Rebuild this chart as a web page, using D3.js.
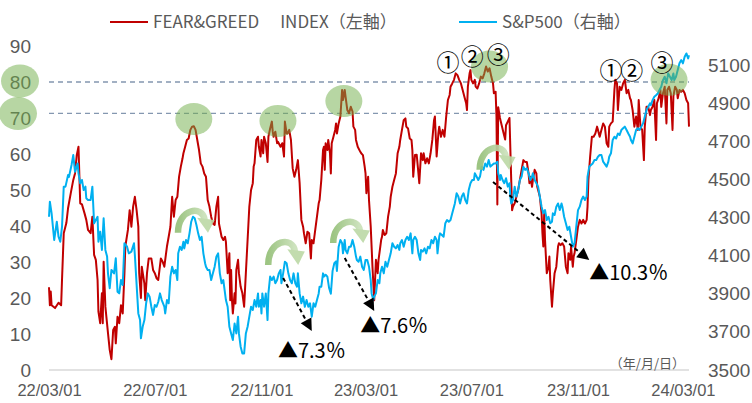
<!DOCTYPE html>
<html>
<head>
<meta charset="utf-8">
<script src="https://cdn.jsdelivr.net/npm/d3@7"></script>
<style>
  body { margin: 0; background: #fff; }
  svg { display: block; font-family: "Noto Sans CJK JP", "Noto Sans", sans-serif; }
</style>
</head>
<body>
<svg id="chart" width="752" height="403"></svg>
<script>
// day 0 = 2022/03/01, readings
var START = new Date(2022, 2, 1);

// [day, Fear & Greed index]
var fearGreed = [
  [0,23],[1,18],[2,21.8],[3,18],[7,17.2],[11,18.7],[14,18],[15,25],[17,38],[20,40.8],
  [22,45],[25,49],[28,52.8],[30,54.6],[32,59.7],[34,62],[36,46.3],[38,46],[41,43.5],[43,41.7],
  [45,38.9],[48,38],[50,42.6],[52,32],[54,30.6],[56,25],[57,16.2],[59,13],[61,21.3],[62,13],
  [63,30.1],[65,17.6],[68,10.3],[70,5.6],[72,3],[74,11.1],[76,12],[77,7.4],[79,14.8],[81,13],
  [83,18],[85,15.7],[87,26.9],[88,34.3],[91,38.9],[93,44.4],[95,39.8],[97,45.4],[99,48.1],[101,44.4],
  [103,39.8],[104,26.9],[106,20],[107,28.7],[110,24],[111,19.4],[113,26.9],[115,31],[118,31],[120,27.8],
  [122,26.9],[124,25.5],[126,25],[129,31],[131,30.1],[133,28.7],[136,34.3],[138,37],[140,39.8],[142,48.1],
  [144,42.6],[146,47.2],[148,48.1],[150,53.7],[152,56.5],[154,58.8],[155,60.2],[157,62],[159,63.9],[161,64.3],
  [163,66.7],[165,67.6],[167,67.7],[169,66.7],[171,63.9],[173,61.1],[175,57.4],[177,56.5],[179,54.6],[181,53.7],
  [183,47.2],[185,45.4],[187,42.6],[189,40.7],[191,40.3],[193,45.4],[195,48.1],[196,40.7],[199,37],[201,36.1],
  [203,37],[204,35.6],[206,26.9],[208,32.4],[209,19.4],[210,27.8],[211,19.4],[212,15.7],[214,21.3],[215,18.5],
  [216,27.8],[218,30.6],[219,26.9],[221,23.1],[223,21.3],[225,17.6],[227,26.9],[229,36.1],[231,45.4],[233,50],
  [235,51.9],[236,56.5],[237,57.4],[239,63.9],[241,64.8],[242,62],[244,59.3],[245,63.9],[247,60.2],[248,64.8],
  [250,63],[252,57.8],[253,64.8],[255,67.1],[257,69],[258,66.2],[259,64.8],[261,66.2],[263,63],[264,63.4],
  [267,62],[269,63],[271,59.3],[272,69],[274,65.7],[275,65.7],[277,66.7],[279,63.9],[281,56],[283,53.7],
  [285,55.6],[287,58.3],[289,51.9],[291,41.7],[293,39.8],[294,38],[296,35.2],[298,38.4],[300,38],[302,31],
  [303,36.1],[305,35.2],[307,38.9],[309,42.6],[311,46.3],[312,47.2],[314,52.8],[316,61.1],[317,62],[318,55.6],
  [319,63],[321,61.1],[322,63.9],[324,60.2],[325,54.6],[326,63],[328,64.8],[330,66.7],[331,68.5],[332,65.7],
  [334,68.5],[336,70.4],[338,77.8],[339,75],[341,77.8],[342,75.9],[344,72.2],[346,71.3],[348,73.1],[350,71.8],
  [351,67.6],[353,66.7],[354,63.9],[356,62],[359,60.6],[360,60.2],[362,59.7],[364,56.5],[365,54.6],[366,49.1],
  [368,53.7],[369,47.2],[371,39.8],[373,28.7],[375,19.4],[376,25],[377,30.6],[379,26.9],[380,30.6],[381,32.4],
  [383,36.1],[384,37],[385,38.9],[387,37.5],[389,38],[391,42.6],[393,45.4],[394,48.1],[396,50.9],[398,52.8],
  [400,54.6],[401,57.4],[402,60.2],[404,62],[405,63.9],[407,66.7],[409,69.4],[411,69.9],[412,67.6],[414,67.1],
  [416,64.3],[418,63.9],[419,61.1],[420,53.7],[422,59.7],[424,59.8],[426,54.6],[427,51.9],[429,60.2],[431,58.3],
  [432,60.2],[434,57.4],[436,58.8],[438,57.4],[440,60.2],[442,63.9],[444,69.4],[445,70.4],[447,59.3],[449,65.7],
  [450,67.6],[452,64.8],[454,66.7],[456,64.8],[458,70.4],[460,75],[462,76.4],[463,78.7],[465,79.6],[467,80.6],
  [469,82.4],[471,81.9],[473,80.6],[475,79.6],[477,77.8],[479,75.9],[481,74.1],[482,72.2],[483,78.7],[485,82.4],
  [486,83.3],[487,80.6],[489,79.6],[491,80.6],[492,78.7],[494,78.2],[496,79.6],[498,81.5],[500,81],[502,82.4],
  [504,84.3],[506,82.9],[508,83.8],[510,81.5],[512,79.6],[513,76.9],[515,77.3],[516,70.4],[517,46],[518,73],
  [520,70],[522,68],[524,66],[526,64],[527,68],[529,69],[531,70],[533,52.8],[534,44.4],[535,45.4],
  [537,46.3],[539,48.1],[541,50],[543,52.8],[545,55.6],[547,58.3],[549,57.8],[551,57.8],[553,54.6],[554,51.9],
  [555,53.7],[557,50.9],[558,52.8],[560,55.6],[562,54.6],[563,50.9],[565,49.1],[566,48.1],[568,43.5],[569,38],
  [570,34.3],[571,43.5],[572,36.1],[574,26.9],[576,28.7],[577,31.5],[578,25],[580,17.6],[581,21.3],[583,26.9],
  [585,28.7],[587,34.3],[588,35.2],[590,34.7],[592,35.2],[594,34.3],[596,28.7],[598,26.9],[599,32.4],[601,30.6],
  [602,34.3],[604,28.7],[605,31.5],[606,32.4],[608,36.1],[610,39.8],[612,41.7],[614,40.7],[616,41.7],[618,40.7],
  [620,41.7],[621,45.4],[622,52.8],[624,59.3],[626,64.8],[628,64.8],[630,65.7],[632,67.6],[633,66.7],[635,64.8],
  [637,66.7],[639,68.5],[641,67.6],[643,63],[645,62],[646,67.6],[648,68.5],[650,69],[652,77.8],[653,80.6],
  [655,79.6],[656,72.2],[658,78.7],[660,77.8],[662,79.6],[664,80.6],[666,76.9],[668,77.8],[670,75.5],[671,75],
  [673,72.2],[675,67.6],[677,70.4],[679,66.7],[680,75],[682,67.6],[684,66.7],[686,58.3],[687,67.6],[689,73.1],
  [691,73.1],[693,70.8],[694,72.2],[696,73.1],[698,75],[700,63.9],[701,74.1],[703,75.5],[705,77.8],[706,73.1],
  [708,76.9],[710,78.7],[712,68.5],[713,77.8],[715,78.7],[717,76.9],[719,66.7],[720,76],[722,78.7],[724,77.8],
  [725,75.5],[727,77.8],[729,77.3],[731,77.8],[733,76.9],[735,75],[737,74.1],[738,67.6]
];

// [day, S&P500 close]
var sp500 = [
  [0,4304],[1,4383],[3,4322],[6,4182],[9,4278],[11,4199],[13,4173],[15,4251],[17,4462],[19,4462],
  [22,4523],[23,4513],[26,4576],[28,4628],[30,4540],[33,4584],[34,4532],[36,4480],[38,4497],[40,4444],
  [42,4462],[43,4401],[45,4392],[48,4392],[50,4462],[52,4270],[54,4287],[56,4304],[57,4173],[59,4226],
  [61,4130],[63,4296],[65,4130],[67,4095],[68,4007],[70,3929],[72,4025],[75,4007],[77,4086],[79,3911],
  [81,3902],[83,3972],[85,3946],[87,4165],[90,4147],[92,4112],[95,4121],[98,4165],[99,4104],[103,3797],
  [105,3762],[106,3666],[108,3727],[110,3762],[112,3850],[114,3902],[116,3885],[118,3832],[120,3789],[122,3841],
  [124,3832],[126,3858],[128,3902],[130,3867],[133,3832],[134,3797],[136,3867],[138,3850],[140,3990],[142,4042],
  [144,4007],[146,4025],[148,3972],[149,4112],[151,4147],[153,4130],[155,4173],[156,4138],[158,4182],[160,4165],
  [162,4217],[164,4278],[166,4304],[168,4296],[170,4261],[172,4217],[174,4182],[176,4199],[178,4112],[180,4060],
  [181,4042],[183,4025],[185,4025],[187,3972],[189,4007],[191,4042],[193,4095],[195,4112],[197,4007],[199,3955],
  [201,3972],[203,3902],[204,3867],[206,3832],[208,3727],[210,3692],[212,3657],[214,3744],[216,3692],[218,3780],
  [219,3692],[221,3622],[223,3587],[225,3587],[227,3692],[229,3727],[231,3780],[233,3832],[235,3815],[237,3867],
  [239,3832],[241,3902],[242,3832],[244,3867],[245,3797],[246,3902],[248,3832],[250,3902],[252,3762],[253,3902],
  [255,3990],[257,3972],[259,3990],[261,3955],[263,3972],[265,4007],[267,4025],[268,3955],[270,4007],[272,4068],
  [274,4060],[276,4007],[278,3972],[280,3955],[282,4007],[284,3955],[286,3937],[287,4007],[289,3902],[291,3850],
  [293,3885],[295,3832],[297,3867],[299,3832],[301,3850],[303,3780],[305,3850],[307,3832],[309,3867],[311,3902],
  [312,3937],[314,3937],[316,4007],[317,3990],[319,4000],[321,3990],[323,3930],[325,3900],[327,4020],[329,4060],
  [331,4070],[332,4020],[334,4147],[336,4182],[338,4165],[339,4112],[341,4182],[342,4130],[344,4112],[346,4147],
  [348,4147],[350,4182],[352,4147],[354,4095],[355,4077],[357,4068],[359,4095],[361,4042],[363,4025],[365,4077],
  [367,4077],[369,4042],[371,3972],[372,3902],[374,3867],[375,3885],[377,3902],[378,3937],[379,3972],[381,3955],
  [382,4007],[384,4042],[386,4007],[388,4068],[390,4042],[392,4077],[394,4112],[396,4165],[398,4147],[400,4138],
  [402,4156],[404,4130],[405,4165],[407,4182],[409,4147],[411,4182],[413,4199],[415,4182],[417,4217],[419,4112],
  [420,4182],[422,4199],[424,4182],[426,4112],[428,4077],[429,4130],[431,4121],[433,4138],[435,4112],[437,4147],
  [439,4138],[441,4182],[443,4165],[445,4199],[447,4182],[448,4112],[450,4199],[451,4217],[453,4208],[455,4199],
  [457,4270],[459,4287],[461,4278],[463,4287],[465,4322],[467,4357],[468,4374],[470,4427],[472,4410],[474,4374],
  [476,4410],[478,4427],[480,4392],[482,4374],[484,4444],[486,4480],[488,4497],[490,4497],[491,4532],[493,4515],
  [495,4497],[497,4515],[499,4567],[501,4550],[503,4584],[505,4567],[507,4602],[509,4567],[511,4576],[513,4584],
  [515,4584],[517,4593],[518,4532],[520,4497],[521,4523],[523,4497],[525,4480],[527,4506],[529,4462],[531,4480],
  [532,4410],[533,4374],[535,4392],[537,4462],[539,4410],[541,4444],[543,4497],[545,4515],[547,4567],[549,4550],
  [551,4558],[553,4532],[555,4497],[557,4515],[558,4532],[560,4497],[562,4480],[564,4462],[566,4410],[568,4357],
  [570,4322],[572,4339],[574,4287],[576,4304],[578,4270],[580,4278],[581,4322],[583,4313],[585,4357],[587,4374],
  [589,4339],[591,4374],[592,4357],[594,4304],[596,4270],[598,4235],[600,4252],[602,4199],[604,4147],[606,4165],
  [608,4252],[610,4339],[612,4357],[614,4392],[616,4410],[618,4392],[620,4410],[621,4515],[623,4567],[625,4576],
  [627,4584],[629,4602],[631,4602],[633,4619],[635,4628],[637,4628],[639,4593],[643,4567],[645,4593],[646,4619],
  [648,4637],[650,4707],[652,4724],[654,4715],[656,4741],[658,4733],[660,4759],[662,4768],[664,4777],[666,4759],
  [668,4741],[670,4724],[671,4707],[673,4689],[675,4724],[677,4759],[679,4768],[681,4759],[683,4777],[685,4794],
  [687,4829],[689,4864],[691,4881],[693,4899],[694,4890],[696,4916],[698,4934],[700,4942],[702,4951],[704,4969],
  [706,4986],[708,5021],[710,5039],[712,5004],[714,5056],[716,5039],[718,5021],[720,5056],[721,5021],[723,5039],
  [725,5074],[727,5109],[729,5126],[731,5109],[733,5144],[735,5161],[737,5135],[738,5152]
];

var leftTicks  = [0, 10, 20, 30, 40, 50, 60, 70, 80, 90];
var rightTicks = [3500, 3700, 3900, 4100, 4300, 4500, 4700, 4900, 5100];
var xTickDays  = [0, 122, 245, 365, 487, 610, 731];   // 22/03/01 ... 24/03/01
var guideLevels = [80, 71.3];                          // dashed lines, left scale

// annotations (day / left-scale value or S&P value)
var peakCircles = [[167, 69.7], [264, 69.2], [340, 74.7], [508, 84.3], [715, 80.6]];
var peakLabels  = [["①", 460, 85.3], ["②", 488, 86.9], ["③", 518, 87.5],
                   ["①", 648, 83.1], ["②", 672, 83.1], ["③", 707, 85.3]];
var turnArrows  = [[143, 191, 45.3, 38.1], [247, 295, 36.7, 29.2], [322, 370, 42.2, 35.3], [491, 538, 62.8, 55.6]];
var dropArrows  = [[270, 3983, 303, 3705], [341, 4088, 375, 3810], [512, 4486, 623, 4077]];
var dropLabels  = [["▲7.3％", 264, 3600], ["▲7.6％", 359, 3731], ["▲10.3％", 623, 4009]];

var svg = d3.select("#chart");
var day = function(d) { return d3.timeDay.offset(START, d); };

var x  = d3.scaleTime().domain([START, day(738)]).range([49, 689]);
var yL = d3.scaleLinear().domain([0, 90]).range([370, 46]);
var yR = d3.scaleLinear().domain([3500, 5200]).range([370, 46]);

var grey = "#595959";

// gradient for the curved arrows
var defs = svg.append("defs");
var grad = defs.append("linearGradient").attr("id", "arrowGrad")
    .attr("x1", 0).attr("x2", 1).attr("y1", 0).attr("y2", 0);
grad.append("stop").attr("offset", 0).attr("stop-color", "#93bf76");
grad.append("stop").attr("offset", 1).attr("stop-color", "#c9e0b8");

// axes
var gl = svg.append("g").attr("transform", "translate(49,0)")
    .call(d3.axisLeft(yL).tickValues(leftTicks).tickSize(0).tickPadding(18));
var gr = svg.append("g").attr("transform", "translate(689,0)")
    .call(d3.axisRight(yR).tickValues(rightTicks).tickFormat(d3.format("d")).tickSize(0).tickPadding(19));
var gb = svg.append("g").attr("transform", "translate(0,370)")
    .call(d3.axisBottom(x).tickValues(xTickDays.map(day)).tickFormat(d3.timeFormat("%y/%m/%d"))
      .tickSize(0).tickPadding(14));
[gl, gr, gb].forEach(function(g) {
  g.select(".domain").remove();
  g.selectAll("text").attr("fill", grey).attr("font-family", null);
});
gl.selectAll("text").attr("font-size", 19);
gr.selectAll("text").attr("font-size", 19);
gb.selectAll("text").attr("font-size", 16.5);

svg.append("line")
    .attr("x1", x.range()[0]).attr("x2", x.range()[1])
    .attr("y1", yL(0)).attr("y2", yL(0))
    .attr("stroke", "#d9d9d9").attr("stroke-width", 1.5);

svg.selectAll(".guide").data(guideLevels).enter().append("line")
    .attr("x1", x.range()[0]).attr("x2", x.range()[1])
    .attr("y1", function(d) { return yL(d); }).attr("y2", function(d) { return yL(d); })
    .attr("stroke", "#8497b0").attr("stroke-width", 1.3).attr("stroke-dasharray", "5,4");

// series
var fgLine = d3.line().x(function(d) { return x(day(d[0])); }).y(function(d) { return yL(d[1]); });
var spLine = d3.line().x(function(d) { return x(day(d[0])); }).y(function(d) { return yR(d[1]); });

svg.append("path").datum(fearGreed).attr("d", fgLine)
    .attr("fill", "none").attr("stroke", "#c00000").attr("stroke-width", 2).attr("stroke-linejoin", "round");
svg.append("path").datum(sp500).attr("d", spLine)
    .attr("fill", "none").attr("stroke", "#00b0f0").attr("stroke-width", 2).attr("stroke-linejoin", "round");

// green highlight ellipses
var hl = "#70ad47";
[80, 70].forEach(function(v, i) {
  svg.append("ellipse").attr("cx", i ? 18 : 20).attr("cy", yL(v) - (i ? 4.5 : 1))
      .attr("rx", 19).attr("ry", 16.5).attr("fill", hl).attr("fill-opacity", 0.5);
});
svg.selectAll(".peak").data(peakCircles).enter().append("ellipse")
    .attr("cx", function(d) { return x(day(d[0])); })
    .attr("cy", function(d) { return yL(d[1]); })
    .attr("rx", 18.5).attr("ry", 16)
    .attr("fill", hl).attr("fill-opacity", 0.5);

// curved arrows
turnArrows.forEach(function(a) {
  var L = x(day(a[0])), R = x(day(a[1])), T = yL(a[2]), B = yL(a[3]);
  var w = R - L, h = B - T;
  var g = svg.append("g").attr("transform", "translate(" + L + "," + T + ")").attr("opacity", 0.9);
  g.append("path")
      .attr("d", "M" + 0.12 * w + "," + h + " C" + 0.12 * w + "," + 0.05 * h + " " +
                 0.72 * w + "," + -0.08 * h + " " + 0.76 * w + "," + 0.5 * h)
      .attr("fill", "none").attr("stroke", "url(#arrowGrad)").attr("stroke-width", 6.5);
  g.append("path")
      .attr("d", "M" + 0.58 * w + "," + 0.42 * h + " L" + w + "," + 0.5 * h + " L" + 0.84 * w + "," + h + "Z")
      .attr("fill", "#bcd9a6");
});

// dashed drop arrows
dropArrows.forEach(function(a) {
  var x1 = x(day(a[0])), y1 = yR(a[1]), x2 = x(day(a[2])), y2 = yR(a[3]);
  var ang = Math.atan2(y2 - y1, x2 - x1), len = 12, half = 6;
  var bx = x2 - len * Math.cos(ang), by = y2 - len * Math.sin(ang);
  svg.append("line").attr("x1", x1).attr("y1", y1).attr("x2", bx).attr("y2", by)
      .attr("stroke", "#000").attr("stroke-width", 2).attr("stroke-dasharray", "4,3");
  svg.append("path")
      .attr("d", "M" + x2 + "," + y2 +
                 " L" + (bx + half * Math.sin(ang)) + "," + (by - half * Math.cos(ang)) +
                 " L" + (bx - half * Math.sin(ang)) + "," + (by + half * Math.cos(ang)) + "Z")
      .attr("fill", "#000");
});

svg.selectAll(".drop").data(dropLabels).enter().append("text")
    .attr("x", function(d) { return x(day(d[1])); })
    .attr("y", function(d) { return yR(d[2]); })
    .attr("dy", "0.35em").attr("font-size", 20).attr("fill", "#000")
    .text(function(d) { return d[0]; });

svg.selectAll(".num").data(peakLabels).enter().append("text")
    .attr("x", function(d) { return x(day(d[1])); })
    .attr("y", function(d) { return yL(d[2]); })
    .attr("dy", "0.35em").attr("text-anchor", "middle").attr("font-size", 23).attr("fill", "#000")
    .text(function(d) { return d[0]; });

svg.append("text").attr("x", 685).attr("y", 368).attr("text-anchor", "end")
    .attr("font-size", 13).attr("fill", grey).text("（年/月/日）");

// legend
var legend = [
  {label: "FEAR&GREED\u3000 INDEX（左軸）", color: "#c00000", x: 110},
  {label: "S&P500（右軸）", color: "#00b0f0", x: 459}
];
legend.forEach(function(l) {
  svg.append("line").attr("x1", l.x).attr("x2", l.x + 38).attr("y1", 22).attr("y2", 22)
      .attr("stroke", l.color).attr("stroke-width", 2);
  svg.append("text").attr("x", l.x + 43).attr("y", 22).attr("dy", "0.35em")
      .attr("font-size", 17).attr("fill", grey).style("white-space", "pre").text(l.label);
});
</script>
</body>
</html>
